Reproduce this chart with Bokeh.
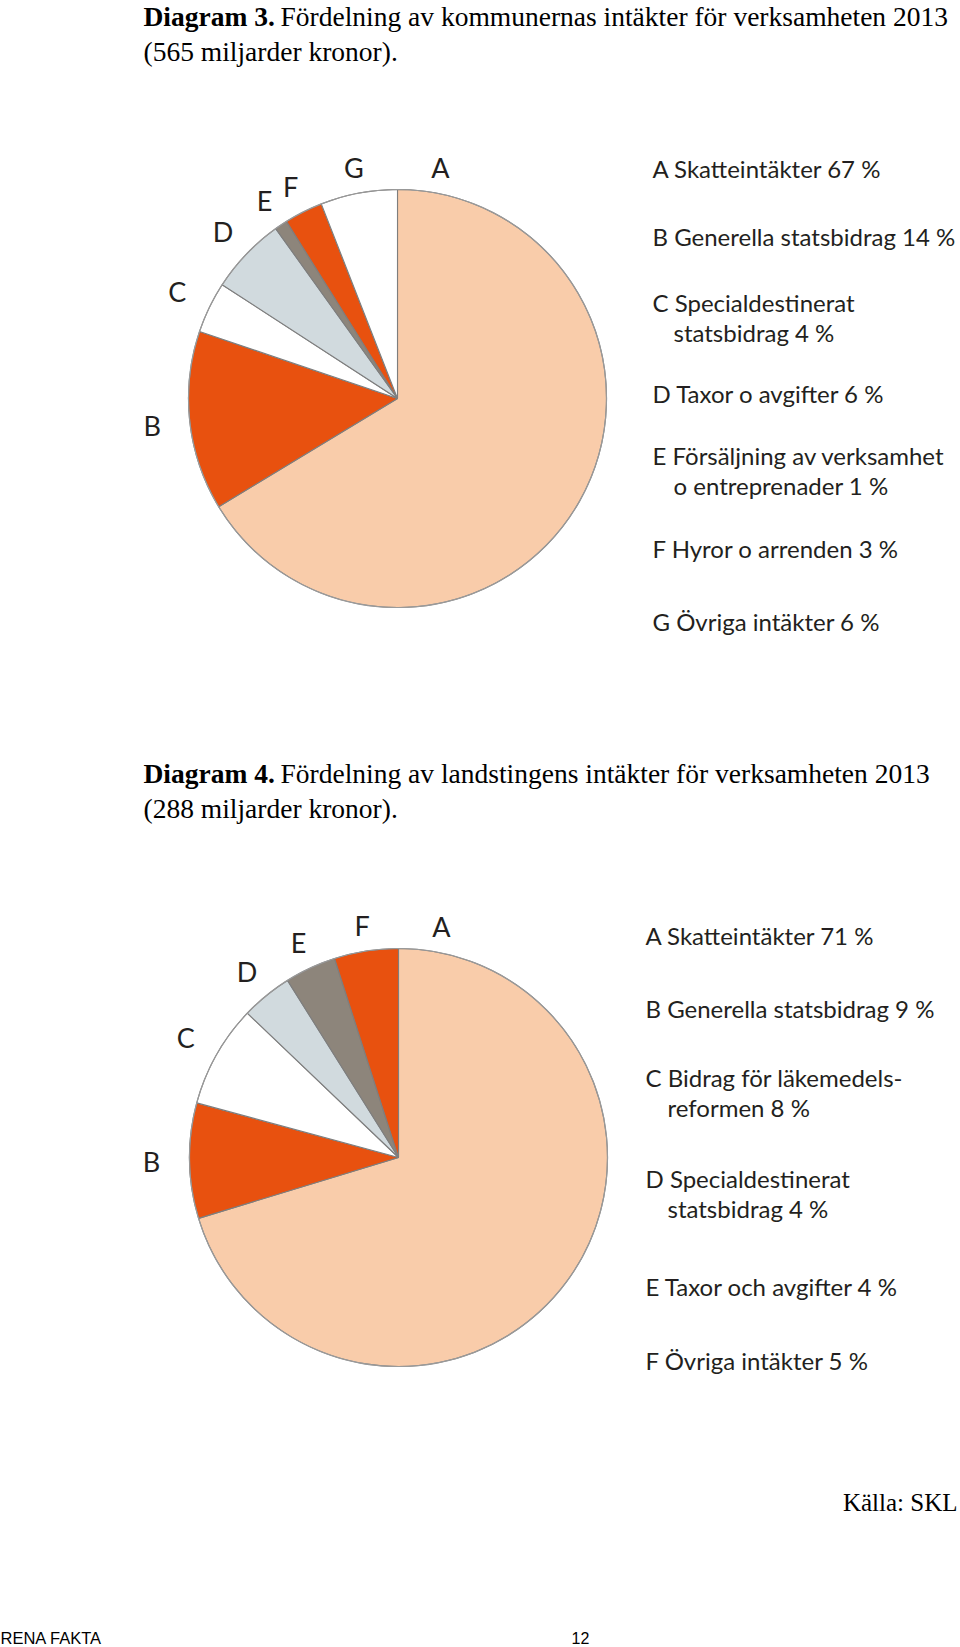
import math
from bokeh.plotting import figure
from bokeh.models import Range1d, ColumnDataSource
from bokeh.core.properties import value
from bokeh.embed import file_html
from bokeh.resources import INLINE

# ---------------- data ----------------
kom_letters = ["A", "B", "C", "D", "E", "F", "G"]
kom_names = ["Skatteintäkter", "Generella statsbidrag", "Specialdestinerat\nstatsbidrag",
             "Taxor o avgifter", "Försäljning av verksamhet\no entreprenader",
             "Hyror o arrenden", "Övriga intäkter"]
kom_values = [67, 14, 4, 6, 1, 3, 6]
kom_title = "Fördelning av kommunernas intäkter för verksamheten 2013"
kom_total = "(565 miljarder kronor)."

lan_letters = ["A", "B", "C", "D", "E", "F"]
lan_names = ["Skatteintäkter", "Generella statsbidrag", "Bidrag för läkemedels-\nreformen",
             "Specialdestinerat\nstatsbidrag", "Taxor och avgifter", "Övriga intäkter"]
lan_values = [71, 9, 8, 4, 4, 5]
lan_title = "Fördelning av landstingens intäkter för verksamheten 2013"
lan_total = "(288 miljarder kronor)."

source_text = "Källa: SKL"
footer_left = "RENA FAKTA"
page_no = "12"

# ---------------- styles ----------------
PEACH = "#F9CCAA"
ORANGE = "#E8510F"
LIGHT = "#D1DADE"
TAUPE = "#8D857B"
WHITE = "#FFFFFF"
kom_colors = [PEACH, ORANGE, WHITE, LIGHT, TAUPE, ORANGE, WHITE]
lan_colors = [PEACH, ORANGE, WHITE, LIGHT, TAUPE, ORANGE]

TXT = "#231F20"
SANS = "Lato"
SERIF = "Liberation Serif"

PAGE_W, PAGE_H = 960, 1647
W, H = PAGE_W, PAGE_H


def X(px):
    return px


def Y(py):
    return PAGE_H - py


p = figure(width=W, height=H, x_range=Range1d(0, W), y_range=Range1d(0, H),
           output_backend="svg", toolbar_location=None, min_border=0,
           x_axis_location=None, y_axis_location=None)
p.grid.visible = False
p.outline_line_color = None
p.background_fill_color = "white"
p.border_fill_color = "white"


def draw_pie(letters, names, values, colors, cx, cy, R, leg_x, leg_indent, leg_ys):
    total = float(sum(values))
    cum = [0.0]
    for v in values:
        cum.append(cum[-1] + v / total)
    starts, ends, mids = [], [], []
    for i in range(len(values)):
        a0 = math.pi / 2 - 2 * math.pi * cum[i + 1]
        a1 = math.pi / 2 - 2 * math.pi * cum[i]
        starts.append(a0)
        ends.append(a1)
        mids.append((a0 + a1) / 2)
    src = ColumnDataSource(dict(x=[X(cx)] * len(values), y=[Y(cy)] * len(values),
                                start=starts, end=ends, color=colors))
    p.wedge(x="x", y="y", radius=R, start_angle="start", end_angle="end",
            fill_color="color", line_color="#7E7E7E", line_width=1.1, source=src)
    p.circle(x=[X(cx)], y=[Y(cy)], radius=R, fill_color=None,
             line_color="#9A9A9A", line_width=1.2)

    # slice letters around the pie
    lx, ly = [], []
    for i, m in enumerate(mids):
        if i == 0:
            ang = math.pi / 2 - math.radians(10.5)
        else:
            ang = m
        r = R + 26 + 12 * math.cos(ang) ** 2
        lx.append(X(cx) + r * math.cos(ang))
        ly.append(Y(cy) + r * math.sin(ang))
    p.text(x=lx, y=ly, text=letters, text_font=value(SANS), text_font_size="27px",
           text_align="center", text_baseline="middle", text_color=TXT)

    # legend
    tx, ty, tt = [], [], []
    for i, (l, n, v) in enumerate(zip(letters, names, values)):
        lines = f"{l} {n} {v} %".split("\n")
        for j, line in enumerate(lines):
            tx.append(X(leg_x + (leg_indent if j else 0)))
            ty.append(Y(leg_ys[i] + 30 * j))
            tt.append(line)
    p.text(x=tx, y=ty, text=tt, text_font=value(SANS), text_font_size="24px",
           text_align="left", text_baseline="middle", text_color=TXT)


def draw_title(num, title, total, ty):
    p.text(x=[X(143)], y=[Y(ty)], text=[f"Diagram {num}."], text_font=value(SERIF),
           text_font_size="27.5px", text_font_style="bold", text_baseline="middle",
           text_color="black")
    p.text(x=[X(280)], y=[Y(ty)], text=[title], text_font=value(SERIF),
           text_font_size="27.5px", text_baseline="middle", text_color="black")
    p.text(x=[X(143)], y=[Y(ty + 35)], text=[total], text_font=value(SERIF),
           text_font_size="27.5px", text_baseline="middle", text_color="black")


draw_title(3, kom_title, kom_total, 16)
draw_pie(kom_letters, kom_names, kom_values, kom_colors, 397, 398, 209,
         652, 21, [168, 236, 302, 393, 455, 548, 621])

draw_title(4, lan_title, lan_total, 773)
draw_pie(lan_letters, lan_names, lan_values, lan_colors, 398, 1157, 209,
         645, 22, [935, 1008, 1077, 1178, 1286, 1360])

p.text(x=[X(957)], y=[Y(1502)], text=[source_text], text_font=value(SERIF),
       text_font_size="25px", text_align="right", text_baseline="middle", text_color="black")
p.text(x=[X(0)], y=[Y(1637)], text=[footer_left], text_font=value("Liberation Sans"),
       text_font_size="16.5px", text_align="left", text_baseline="alphabetic", text_color="black")
p.text(x=[X(580)], y=[Y(1637)], text=[page_no], text_font=value("Liberation Sans"),
       text_font_size="16px", text_align="center", text_baseline="alphabetic", text_color="black")

open("out.html", "w").write(file_html(p, INLINE))
